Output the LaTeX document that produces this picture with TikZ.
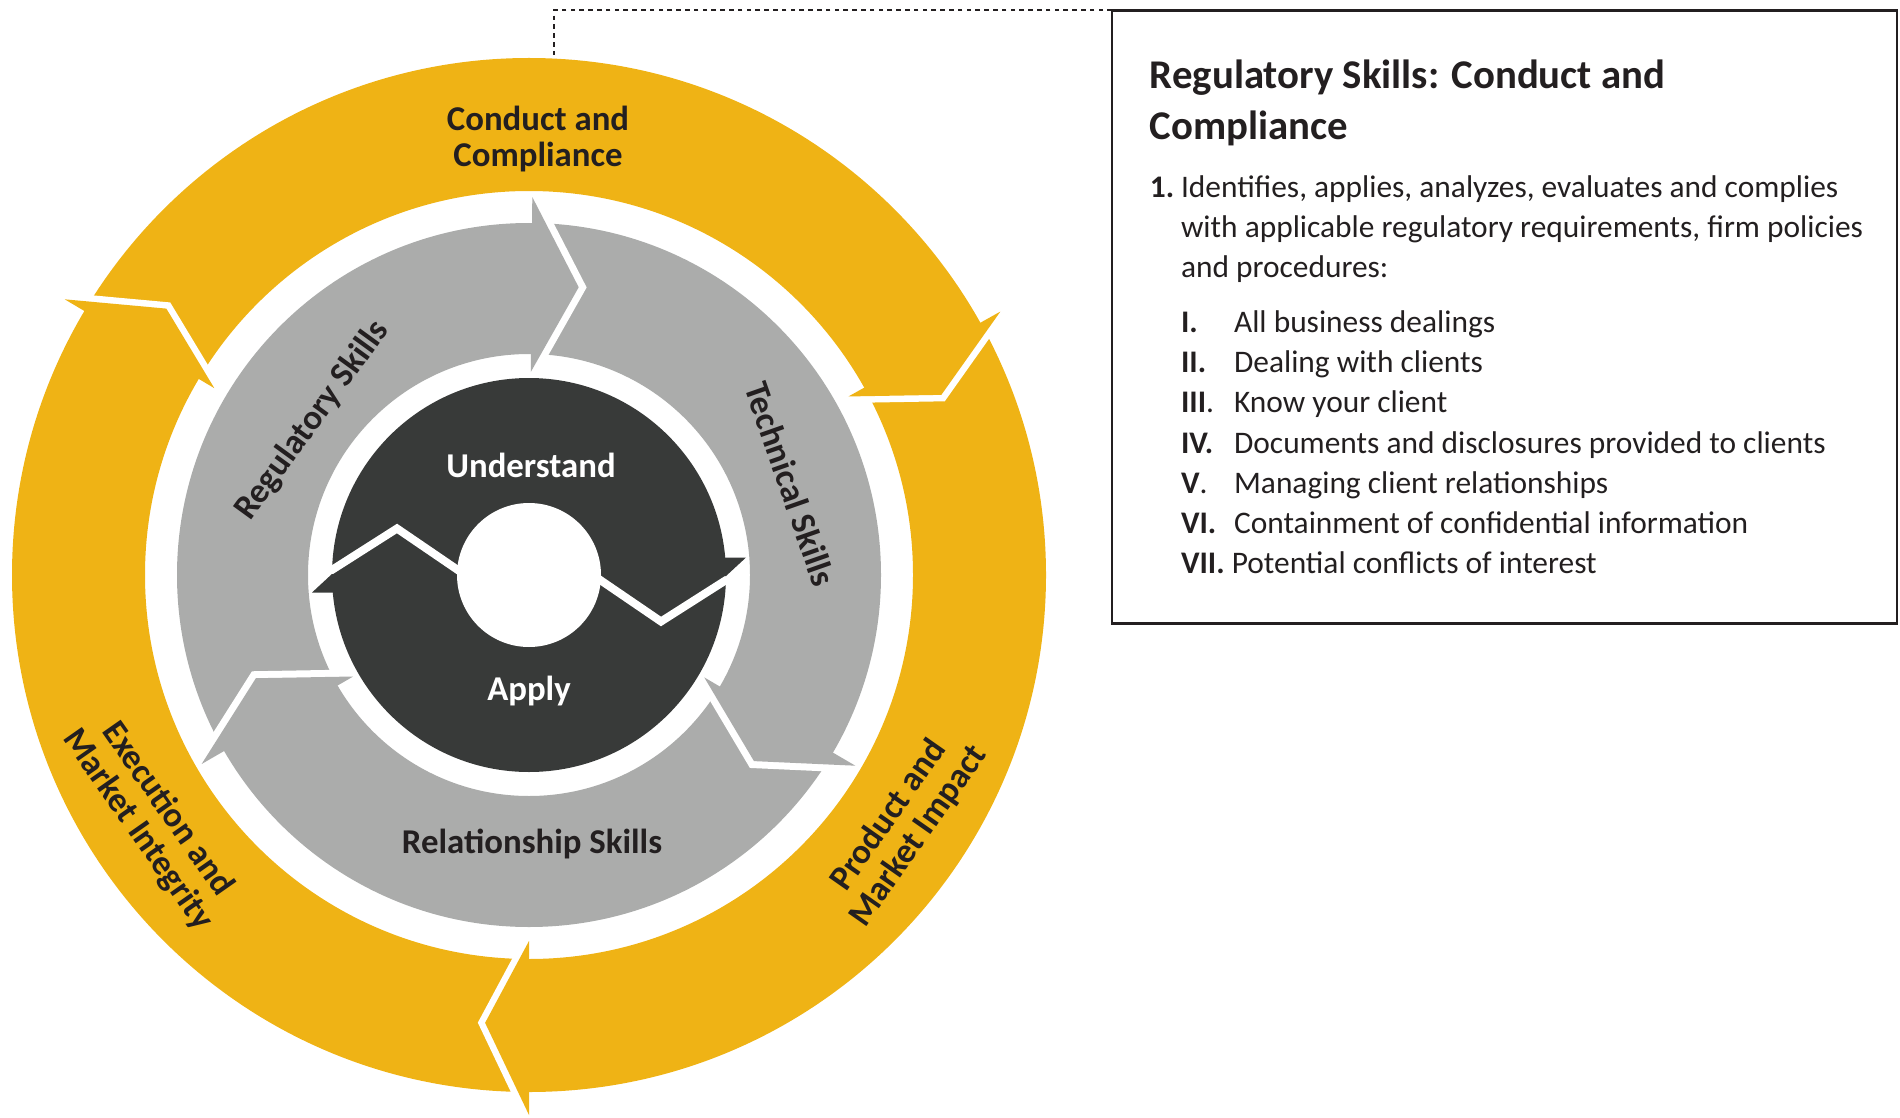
\documentclass[tikz,border=0pt]{standalone}
\usepackage{fontspec}
\setmainfont{Carlito}
\usetikzlibrary{positioning}
\definecolor{ringgold}{RGB}{239,179,21}
\definecolor{ringgrey}{RGB}{171,172,171}
\definecolor{coredark}{RGB}{56,58,57}
\definecolor{inkdark}{RGB}{35,31,32}

\begin{document}
\begin{tikzpicture}[x=0.5pt,y=0.5pt,yscale=-1,xscale=1,
  ringlabel/.style={text=inkdark,font=\fontsize{17.4}{18}\selectfont\bfseries,inner sep=0pt},
  corelabel/.style={text=white,font=\fontsize{17.4}{18}\selectfont\bfseries,inner sep=0pt},
  headtitle/.style={text=inkdark,font=\fontsize{20.4}{24}\selectfont\bfseries,anchor=base west,inner sep=0pt},
  bodytext/.style={text=inkdark,font=\fontsize{15.7}{20}\selectfont,anchor=base west,inner sep=0pt},
  greygap/.style={white,line width=7pt,line join=miter},
  goldgap/.style={white,line width=6.5pt,line join=miter},
  infobox/.style={draw=inkdark,line width=1.2pt,inner sep=0pt,outer sep=0pt},
  linkdash/.style={draw=inkdark,line width=1pt,dash pattern=on 2.3pt off 2.1pt}
]
\useasboundingbox (0,0) rectangle (1900,1118);

\begin{scope}[shift={(529,575)}]
%Shape: Grey ring with three heads
\fill [ringgrey,even odd rule] (0,0) circle [radius=352] (0,0) circle [radius=221];
\draw [greygap] (270.5:378) -- (279.8:292) -- (270.5:203);
\fill [ringgrey] (270.5:378) -- (279.8:292) -- (270.5:203) -- cycle;
\draw [greygap] (30.3:378) -- (39.6:292) -- (30.3:203);
\fill [ringgrey] (30.3:378) -- (39.6:292) -- (30.3:203) -- cycle;
\draw [greygap] (150:378) -- (159.3:292) -- (150:203);
\fill [ringgrey] (150:378) -- (159.3:292) -- (150:203) -- cycle;

%Shape: Gold ring with three heads
\fill [ringgold,even odd rule] (0,0) circle [radius=517] (0,0) circle [radius=384];
\draw [goldgap] (90:540) -- (95.6:450) -- (90:366);
\fill [ringgold] (90:540) -- (95.6:450) -- (90:366) -- cycle;
\draw [goldgap] (210.7:540) -- (216.3:450) -- (210.7:366);
\fill [ringgold] (210.7:540) -- (216.3:450) -- (210.7:366) -- cycle;
\draw [goldgap] (330.8:540) -- (336.4:450) -- (330.8:366);
\fill [ringgold] (330.8:540) -- (336.4:450) -- (330.8:366) -- cycle;

%Shape: Dark core
\fill [coredark] (0,0) circle [radius=197];
\fill [white] (0,0) circle [radius=72];
\draw [white,line width=4pt,line join=miter] (-58,4) -- (-132,-46.5) -- (-205,0);
\draw [white,line width=4pt,line join=miter] (58,-4) -- (132,46.5) -- (205,0);
\fill [coredark] (-190,-1) -- (-197,-1) -- (-217,17.5) -- (-190,17.5) -- cycle;
\fill [coredark] (190,1) -- (197,1) -- (217,-17.5) -- (190,-17.5) -- cycle;

% Text Node
\node [corelabel,anchor=base] (understand) at (2,-98) {Understand};
% Text Node
\node [corelabel,anchor=base] (apply) at (0,125) {Apply};
% Text Node
\node [ringlabel,rotate=54] (regskills) at (215.5:266) {Regulatory Skills};
% Text Node
\node [ringlabel,rotate=-70.7] (techskills) at (340.8:277) {Technical Skills};
% Text Node
\node [ringlabel,anchor=base] (relskills) at (3,278) {Relationship Skills};
% Text Node
\node [ringlabel,align=center] (conduct) at (9,-436) {Conduct and\\Compliance};
% Text Node
\node [ringlabel,align=center,rotate=-55] (execution) at (147:449) {Execution and\\Market Integrity};
% Text Node
\node [ringlabel,align=center,rotate=55] (product) at (33.8:451) {Product and\\Market Impact};
\end{scope}

%Shape: Info box
\node [infobox,minimum width=392.5pt,minimum height=306.5pt] (info) at (1504.5,317) {};
\coordinate (ringtop) at (554,57);
\draw [linkdash] (info.north west) -| (ringtop);

% Text Node
\node [headtitle] (title1) at (1149.5,89) {Regulatory Skills: Conduct and};
\node [headtitle] (title2) at (1149.5,140) {Compliance};
% Text Node
\node [bodytext] (num1) at (1149.5,198) {\textbf{1.}};
\node [bodytext] (para1) at (1180.6,198) {Identifies, applies, analyzes, evaluates and complies};
\node [bodytext] (para2) at (1180.6,238) {with applicable regulatory requirements, firm policies};
\node [bodytext] (para3) at (1180.6,278) {and procedures:};
% Text Node
\node [bodytext] (rom1) at (1180.6,332.5) {\textbf{I.}};
\node [bodytext] (item1) at (1233.7,332.5) {All business dealings};
\node [bodytext] (rom2) at (1180.6,372.7) {\textbf{II.}};
\node [bodytext] (item2) at (1233.7,372.7) {Dealing with clients};
\node [bodytext] (rom3) at (1180.6,412.9) {\textbf{III}.};
\node [bodytext] (item3) at (1233.7,412.9) {Know your client};
\node [bodytext] (rom4) at (1180.6,453.1) {\textbf{IV.}};
\node [bodytext] (item4) at (1233.7,453.1) {Documents and disclosures provided to clients};
\node [bodytext] (rom5) at (1180.6,493.3) {\textbf{V}.};
\node [bodytext] (item5) at (1233.7,493.3) {Managing client relationships};
\node [bodytext] (rom6) at (1180.6,533.5) {\textbf{VI.}};
\node [bodytext] (item6) at (1233.7,533.5) {Containment of confidential information};
\node [bodytext] (item7) at (1180.6,573.7) {\textbf{VII.} Potential conflicts of interest};

\end{tikzpicture}
\end{document}
